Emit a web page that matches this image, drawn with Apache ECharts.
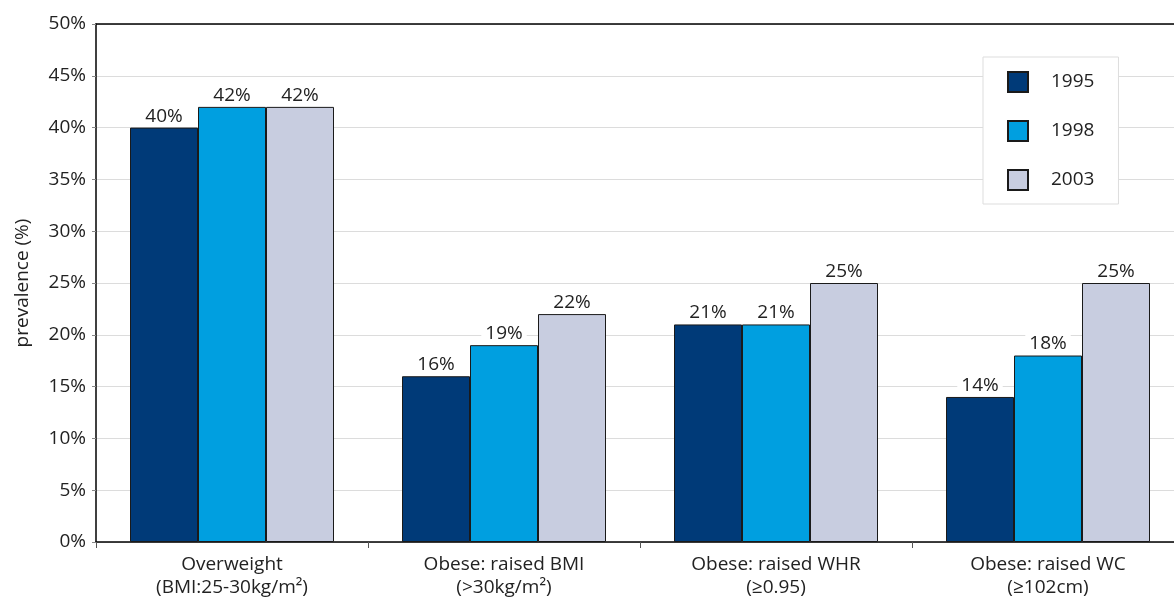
<!DOCTYPE html>
<html>
<head>
<meta charset="utf-8">
<script src="https://cdn.jsdelivr.net/npm/echarts@6/dist/echarts.min.js"></script>
<style>html,body{margin:0;padding:0;background:#fff;overflow:hidden}#c{width:1190px;height:603px}</style>
</head>
<body>
<div id="c"></div>
<script>
const categories = ['Overweight\n(BMI:25-30kg/m²)', 'Obese: raised BMI\n(>30kg/m²)', 'Obese: raised WHR\n(≥0.95)', 'Obese: raised WC\n(≥102cm)'];
const seriesNames = ['1995', '1998', '2003'];
const values1995 = [40, 16, 21, 14];
const values1998 = [42, 19, 21, 18];
const values2003 = [42, 22, 25, 25];
const colors = ['#003a78', '#009fe0', '#c8cde0'];
const FONT = 'Open Sans';

const chart = echarts.init(document.getElementById('c'));
const mk = (name, data, color) => ({
  name, type: 'bar', data,
  barGap: '0%', barCategoryGap: '25%',
  itemStyle: { color, borderColor: '#1a1a1a', borderWidth: 1 },
  label: {
    show: true, position: 'top', distance: 2,
    formatter: p => p.value + '%',
    fontFamily: FONT, fontSize: 19, color: '#222',
    backgroundColor: '#fff', padding: [0, 4]
  }
});
chart.setOption({
  animation: false,
  textStyle: { fontFamily: FONT },
  grid: { left: 96, right: 6, top: 24, bottom: 61 },
  legend: {
    orient: 'vertical', left: 983, top: 57,
    padding: [14, 24, 13, 24],
    itemWidth: 20, itemHeight: 20, itemGap: 27,
    icon: 'rect',
    borderColor: '#dddddd', borderWidth: 1, backgroundColor: '#fff',
    textStyle: { fontFamily: FONT, fontSize: 19, color: '#222', padding: [0, 0, 0, 18] },
    data: seriesNames
  },
  xAxis: [{
    type: 'category', data: categories,
    axisLine: { lineStyle: { color: '#000', width: 1.5 } },
    axisTick: { show: true, length: 6, lineStyle: { color: '#555' } },
    axisLabel: { fontFamily: FONT, fontSize: 19, color: '#222', lineHeight: 23, margin: 11 }
  }, {
    type: 'category', data: categories, position: 'top',
    axisLine: { show: true, lineStyle: { color: '#000', width: 1.5 } },
    axisTick: { show: false }, axisLabel: { show: false }
  }],
  yAxis: {
    type: 'value', min: 0, max: 50, interval: 5,
    name: 'prevalence (%)', nameLocation: 'middle', nameGap: 64,
    nameTextStyle: { fontFamily: FONT, fontSize: 19, color: '#222' },
    axisLine: { show: true, lineStyle: { color: '#000', width: 1.5 } },
    axisTick: { show: true, length: 4, lineStyle: { color: '#888' } },
    axisLabel: { fontFamily: FONT, fontSize: 19, color: '#222', margin: 10, formatter: v => v + '%' },
    splitLine: { lineStyle: { color: '#dcdcdc' } }
  },
  series: [
    mk(seriesNames[0], values1995, colors[0]),
    mk(seriesNames[1], values1998, colors[1]),
    mk(seriesNames[2], values2003, colors[2])
  ]
});
</script>
</body>
</html>
